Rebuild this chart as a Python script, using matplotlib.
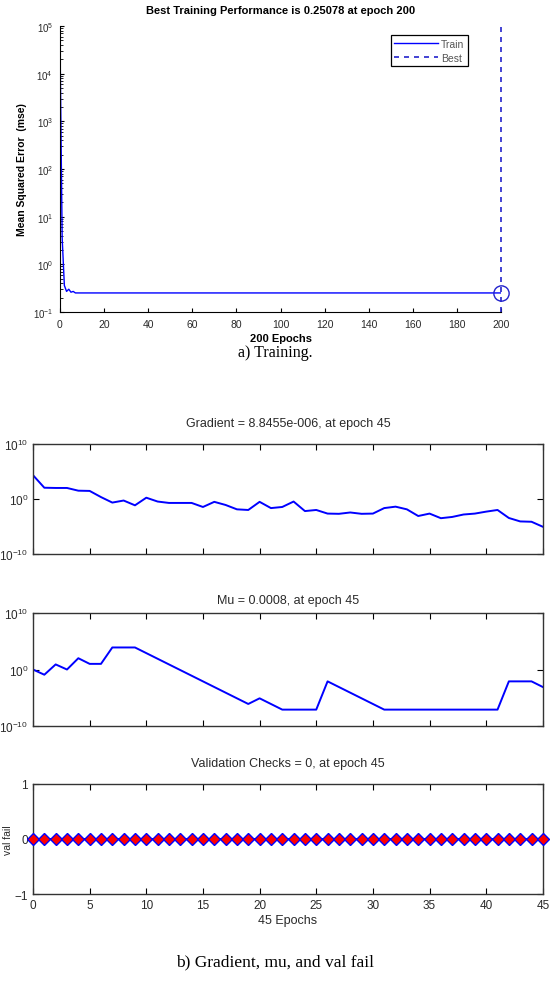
import numpy as np
import matplotlib
matplotlib.use("Agg")
import matplotlib.pyplot as plt
from matplotlib.ticker import LogLocator, NullFormatter, FixedLocator

# ---- data ----
train_epochs = [0, 1, 2, 3, 4, 5, 6, 7, 8, 200]
train_mse = [6.0e4, 3.6, 0.36, 0.27, 0.30, 0.26, 0.27, 0.2508, 0.25078, 0.25078]
best_epoch = 200
best_perf = 0.25078

epochs45 = list(range(46))
gradient = [2.1e4, 1.1e2, 1.0e2, 1.0e2, 3.2e1, 2.9e1, 2.2e0, 2.2e-1, 5.2e-1, 7.0e-2,
            1.7e0, 3.4e-1, 1.9e-1, 1.9e-1, 1.9e-1, 3.5e-2, 3.0e-1, 8.1e-2, 1.3e-2, 1.0e-2,
            3.0e-1, 2.2e-2, 3.5e-2, 3.4e-1, 6.3e-3, 1.0e-2, 2.2e-3, 2.0e-3, 3.5e-3, 2.0e-3,
            2.2e-3, 2.2e-2, 4.0e-2, 1.3e-2, 8.0e-4, 2.2e-3, 3.2e-4, 5.4e-4, 1.5e-3, 2.2e-3,
            5.0e-3, 1.0e-2, 3.5e-4, 8.3e-5, 7.2e-5, 8.8455e-6]
mu = [1.0, 1.2e-1, 8.0, 1.0, 1.0e2, 1.0e1, 1.0e1, 8.0e3, 8.0e3, 8.0e3,
      8.0e2, 8.0e1, 8.0, 8.0e-1, 8.0e-2, 8.0e-3, 8.0e-4, 8.0e-5, 8.0e-6, 8.0e-7,
      8.0e-6, 8.0e-7, 8.0e-8, 8.0e-8, 8.0e-8, 8.0e-8, 8.0e-3, 8.0e-4, 8.0e-5, 8.0e-6,
      8.0e-7, 8.0e-8, 8.0e-8, 8.0e-8, 8.0e-8, 8.0e-8, 8.0e-8, 8.0e-8, 8.0e-8, 8.0e-8,
      8.0e-8, 8.0e-8, 8.0e-3, 8.0e-3, 8.0e-3, 8.0e-4]
val_fail = [0] * 46

tc = "#2a2a2a"
plt.rcParams["font.family"] = ["Liberation Sans", "DejaVu Sans"]

fig = plt.figure(figsize=(5.5, 9.87), dpi=100)

# ---- a) training performance ----
ax = fig.add_axes([0.109, 0.6829, 0.802, 0.2898])
ax.semilogy(train_epochs, train_mse, color="blue", lw=1.0, label="Train")
ax.axvline(best_epoch, color="#2222cc", ls=(0, (3, 3)), lw=1.2, label="Best", clip_on=False)
ax.plot([best_epoch], [best_perf], marker="o", ms=11, mfc="none", mec="#2222cc", mew=1.0, clip_on=False)
ax.set_xlim(0, 200)
ax.set_ylim(0.1, 1e5)
ax.set_xticks(range(0, 201, 20))
ax.yaxis.set_major_locator(LogLocator(base=10, numticks=10))
ax.yaxis.set_minor_locator(LogLocator(base=10, subs=np.arange(2, 10), numticks=10))
ax.yaxis.set_minor_formatter(NullFormatter())
ax.tick_params(direction="in", labelsize=7.5, colors="black", labelcolor=tc, length=3, pad=5)
ax.tick_params(which="minor", direction="in", length=2)
ax.tick_params(axis="y", labelsize=7)
ax.spines["top"].set_visible(False)
ax.spines["right"].set_visible(False)
ax.set_title("Best Training Performance is 0.25078 at epoch 200", fontsize=8, fontweight="bold", pad=9)
ax.set_xlabel("200 Epochs", fontsize=8, fontweight="bold", labelpad=3)
ax.set_ylabel("Mean Squared Error  (mse)", fontsize=7.5, fontweight="bold", labelpad=4)
leg = ax.legend(loc="upper right", bbox_to_anchor=(0.937, 0.985), fontsize=7.5, fancybox=False,
                edgecolor="black", handlelength=4.2, borderpad=0.35, labelspacing=0.35,
                handletextpad=0.3, framealpha=1)
leg.get_frame().set_linewidth(0.9)
for t in leg.get_texts():
    t.set_color("#555555")

fig.text(0.5, 1 - 353 / 987, "a) Training.", ha="center", va="center",
         fontsize=11.5, family="Liberation Serif")

# ---- b) gradient, mu, val fail ----
def style_bottom(a):
    a.tick_params(direction="in", top=True, right=True, labelsize=8.5, labelcolor=tc, length=4)
    a.minorticks_off()
    a.set_xlim(0, 45)
    a.xaxis.set_major_locator(FixedLocator(range(0, 46, 5)))
    for s in a.spines.values():
        s.set_linewidth(1.0)
        s.set_color("#333333")

ag = fig.add_axes([0.06, 0.4377, 0.927, 0.1115])
ag.semilogy(epochs45, gradient, color="blue", lw=1.4)
ag.set_ylim(1e-10, 1e10)
ag.yaxis.set_major_locator(FixedLocator([1e-10, 1e0, 1e10]))
style_bottom(ag)
ag.tick_params(labelbottom=False)
ag.set_title("Gradient = 8.8455e-006, at epoch 45", fontsize=9, color=tc, pad=13)

am = fig.add_axes([0.06, 0.2634, 0.927, 0.1145])
am.semilogy(epochs45, mu, color="blue", lw=1.4)
am.set_ylim(1e-10, 1e10)
am.yaxis.set_major_locator(FixedLocator([1e-10, 1e0, 1e10]))
style_bottom(am)
am.tick_params(labelbottom=False)
am.set_title("Mu = 0.0008, at epoch 45", fontsize=9, color=tc, pad=7)

av = fig.add_axes([0.06, 0.0932, 0.927, 0.1115])
av.plot(epochs45, val_fail, color="blue", lw=1.4, marker="D", ms=6.5, mfc="red",
        mec="blue", mew=1.0, clip_on=False, zorder=3)
av.set_ylim(-1, 1)
av.set_yticks([-1, 0, 1])
style_bottom(av)
av.set_title("Validation Checks = 0, at epoch 45", fontsize=9, color=tc, pad=13)
av.set_xlabel("45 Epochs", fontsize=9, color=tc, labelpad=2)
av.set_ylabel("val fail", fontsize=7.5, color=tc, labelpad=1)

fig.text(0.5, 1 - 962 / 987, "b) Gradient, mu, and val fail", ha="center", va="center",
         fontsize=12.5, family="Liberation Serif")

fig.savefig("out.png", dpi=100)
